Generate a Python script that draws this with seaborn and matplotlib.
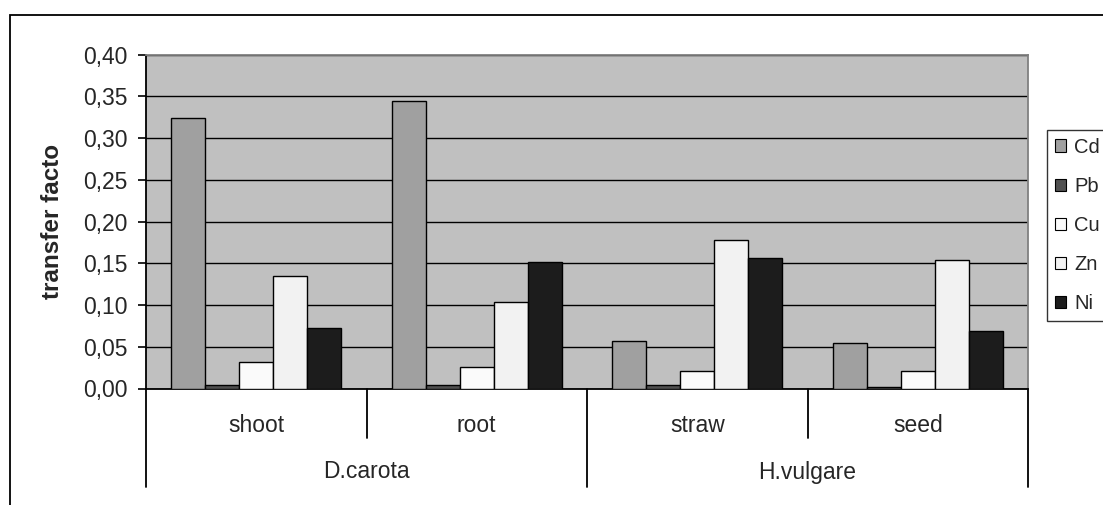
import numpy as np
import pandas as pd
import matplotlib
matplotlib.use("Agg")
import matplotlib.pyplot as plt
import matplotlib.transforms as mtransforms
from matplotlib.patches import Rectangle, Patch
from matplotlib.ticker import FuncFormatter
import seaborn as sns

# ---- data ----
parts = ["shoot", "root", "straw", "seed"]
plants = ["D.carota", "H.vulgare"]
metals = ["Cd", "Pb", "Cu", "Zn", "Ni"]
cd = [0.324, 0.345, 0.057, 0.055]
pb = [0.004, 0.004, 0.004, 0.002]
cu = [0.032, 0.026, 0.021, 0.021]
zn = [0.135, 0.104, 0.178, 0.154]
ni = [0.072, 0.152, 0.156, 0.069]
yticks = [0.0, 0.05, 0.10, 0.15, 0.20, 0.25, 0.30, 0.35, 0.40]
ylabel = "transfer facto"

colors = ["#a0a0a0", "#505050", "#fafafa", "#f2f2f2", "#1c1c1c"]

rows = []
for m, vals in zip(metals, [cd, pb, cu, zn, ni]):
    for p, v in zip(parts, vals):
        rows.append({"part": p, "metal": m, "value": v})
df = pd.DataFrame(rows)

sns.set_style("white")
plt.rcParams["font.family"] = ["Liberation Sans", "DejaVu Sans"]

FS = 16.5
W, H = 1103, 505
fig = plt.figure(figsize=(W / 100, H / 100), dpi=100)
ax = fig.add_axes([146 / W, 1 - 388.5 / H, (1028 - 146) / W, (388.5 - 54.6) / H])

# outer chart frame (clipped at right/bottom like the reference)
fig.patches.append(Rectangle((10 / W, -0.2), 1.2, 1 - 15 / H + 0.2,
                             transform=fig.transFigure, fill=False,
                             edgecolor="black", linewidth=1.3, zorder=0))

ax.set_facecolor("#c0c0c0")
sns.barplot(data=df, x="part", y="value", hue="metal", order=parts,
            hue_order=metals, palette=colors, width=0.77, edgecolor="black",
            linewidth=1.0, ax=ax, legend=False, errorbar=None, zorder=3)

ax.set_ylim(0, 0.40)
ax.set_xlim(-0.5, len(parts) - 0.5)
ax.set_yticks(yticks)
ax.yaxis.set_major_formatter(FuncFormatter(lambda v, p: f"{v:.2f}".replace(".", ",")))
ax.tick_params(axis="y", which="both", direction="out", length=6, width=1.2,
               color="black", left=True, labelsize=16.5, pad=7)
ax.yaxis.grid(True, color="black", linewidth=1.0, zorder=1)
ax.set_axisbelow(True)
ax.set_ylabel(ylabel, fontweight="bold", fontsize=17.5, labelpad=14)
ax.set_xlabel("")
ax.set_xticks([])

for s in ["left", "bottom"]:
    ax.spines[s].set_color("black")
    ax.spines[s].set_linewidth(1.3)
for s in ["top", "right"]:
    ax.spines[s].set_color("#808080")
    ax.spines[s].set_linewidth(1.3)

# multi-level category axis
trans = mtransforms.blended_transform_factory(ax.transData, ax.transAxes)
ah = 388.5 - 54.6
y_inner = -(438 - 388.5) / ah
y_outer = -(487 - 388.5) / ah
for i, p in enumerate(parts):
    ax.text(i, -(425 - 388.5) / ah, p, transform=trans, ha="center", va="center",
            fontsize=FS)
for j, pl in enumerate(plants):
    ax.text(2 * j + 0.5, -(472 - 388.5) / ah, pl, transform=trans, ha="center",
            va="center", fontsize=FS)
for xb in np.arange(-0.5, len(parts), 1.0):
    idx = int(xb + 0.5)
    ylow = y_outer if idx % 2 == 0 else y_inner
    ax.plot([xb, xb], [0, ylow], transform=trans, color="black", lw=1.3,
            clip_on=False)

handles = [Patch(facecolor=c, edgecolor="black", linewidth=0.8, label=m)
           for m, c in zip(metals, colors)]
leg = fig.legend(handles=handles, loc="upper left",
                 bbox_to_anchor=(1047 / W, 1 - 130 / H), frameon=True,
                 fancybox=False, edgecolor="black", fontsize=14.5,
                 handlelength=0.55, handleheight=0.55, handletextpad=0.42,
                 labelspacing=1.0, borderpad=0.38, borderaxespad=0)
leg.get_frame().set_linewidth(1.0)

fig.savefig("out.png", dpi=100)
